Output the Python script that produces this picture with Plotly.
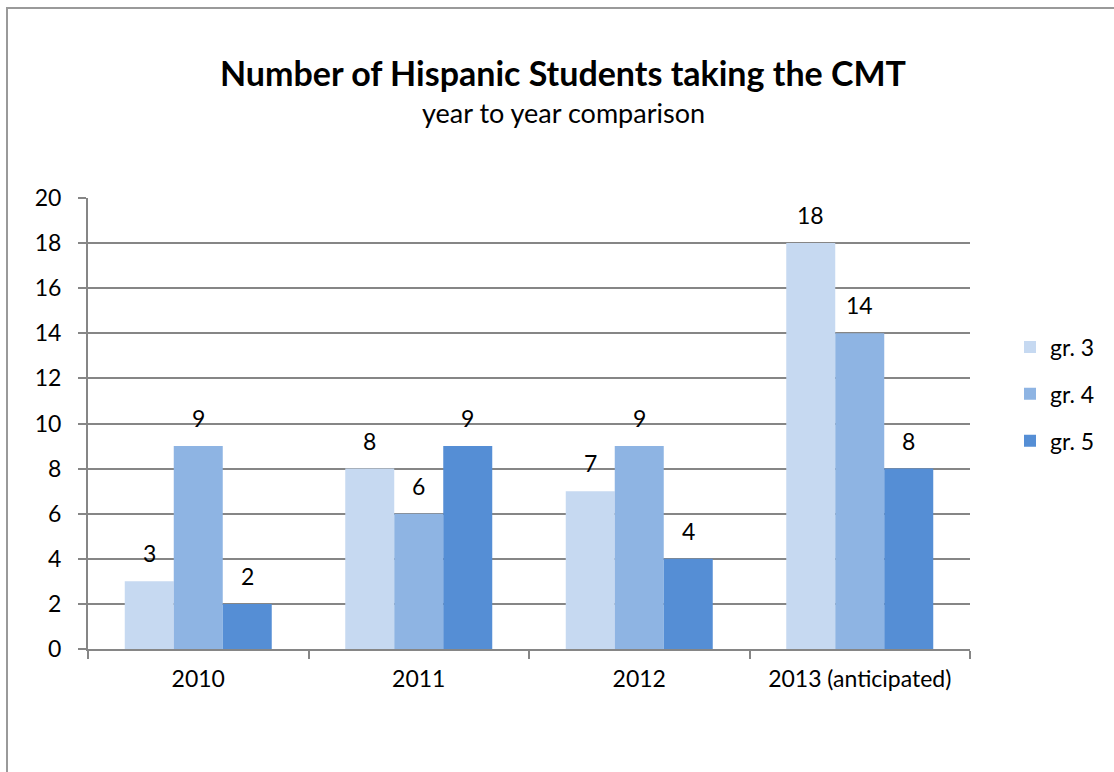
import plotly.graph_objects as go

categories = ["2010", "2011", "2012", "2013 (anticipated)"]
series_names = ["gr. 3", "gr. 4", "gr. 5"]
gr3 = [3, 8, 7, 18]
gr4 = [9, 6, 9, 14]
gr5 = [2, 9, 4, 8]
y_ticks = [0, 2, 4, 6, 8, 10, 12, 14, 16, 18, 20]

values = [gr3, gr4, gr5]
colors = ["#C6D9F1", "#8EB4E3", "#558ED5"]
FONT = "Lato, Calibri, Open Sans, sans-serif"
FS = 23

fig = go.Figure()
for i, (name, vals) in enumerate(zip(series_names, values)):
    fig.add_trace(go.Bar(
        x=categories, y=vals, name=name, marker_color=colors[i],
        marker_line_width=0, legendgroup=name,
    ))

# data labels above bars (x given as category index on the category axis)
offsets = [-49, 0, 49]
for i, vals in enumerate(values):
    for ci, v in enumerate(vals):
        fig.add_annotation(x=ci, y=v, text=str(v), showarrow=False,
                           xref="x", yref="y",
                           xshift=offsets[i], yshift=28, yanchor="middle",
                           font=dict(size=FS, color="#000000", family=FONT))

L, R, T, B = 88, 144, 198, 123
W, H = 1114, 772
pw, ph = W - L - R, H - T - B

def px(x):
    return (x - L) / pw

def py(y):
    return (H - B - y) / ph

# chart frame
fig.add_shape(type="rect", xref="paper", yref="paper",
              x0=px(7), x1=px(1125), y0=py(8), y1=py(790),
              line=dict(color="#9A9A9A", width=2), layer="below")

fig.add_annotation(xref="paper", yref="paper", x=px(563), y=py(72),
                   text="<b>Number of Hispanic Students taking the CMT</b>",
                   showarrow=False, font=dict(size=34, color="#000000", family=FONT),
                   xanchor="center", yanchor="middle")
fig.add_annotation(xref="paper", yref="paper", x=px(563), y=py(112),
                   text="year to year comparison",
                   showarrow=False, font=dict(size=27, color="#000000", family=FONT),
                   xanchor="center", yanchor="middle")

fig.update_layout(
    width=W, height=H,
    margin=dict(l=L, r=R, t=T, b=B, pad=0, autoexpand=False),
    paper_bgcolor="white", plot_bgcolor="white",
    barmode="group", bargap=1.5 / 4.5, bargroupgap=0,
    font=dict(family=FONT, size=FS, color="#000000"),
    legend=dict(x=px(1010), y=py(394), xanchor="left", yanchor="middle",
                font=dict(size=FS, family=FONT), tracegroupgap=14,
                itemwidth=30, bgcolor="rgba(0,0,0,0)"),
    showlegend=True,
)
fig.update_xaxes(
    type="category", automargin=False,
    range=[-0.5, len(categories) - 0.5],
    showline=True, linecolor="#868686", linewidth=2,
    ticks="outside", tickson="boundaries", ticklen=8, tickcolor="#868686", tickwidth=2,
    ticklabelstandoff=8, showgrid=False, tickfont=dict(size=FS, family=FONT),
    tickangle=0, fixedrange=True,
)
fig.update_yaxes(
    automargin=False,
    range=[0, 20], tickvals=y_ticks, showline=True, linecolor="#868686", linewidth=2,
    ticks="outside", ticklen=8, tickcolor="#868686", tickwidth=2,
    ticklabelstandoff=12, showgrid=True, gridcolor="#868686", gridwidth=2,
    zeroline=False, tickfont=dict(size=FS, family=FONT), fixedrange=True,
)

fig.write_html("out.html", config={"displayModeBar": False},
               post_script="document.body.style.margin='0';")
